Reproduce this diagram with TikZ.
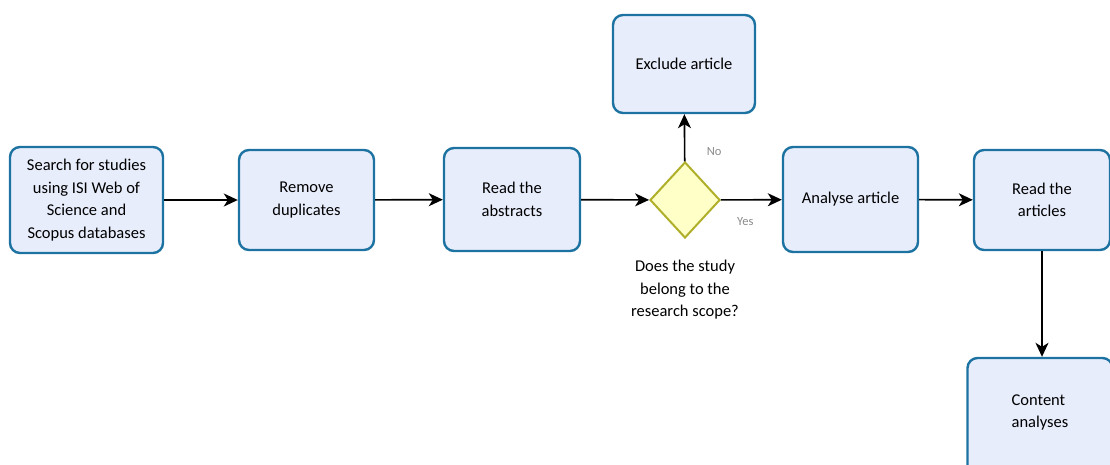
\documentclass[tikz,border=0pt]{standalone}
\usepackage{fontspec}
\setmainfont{Carlito}
\usetikzlibrary{shapes.geometric,arrows.meta}
\definecolor{boxfill}{HTML}{E8EDFC}
\definecolor{boxline}{HTML}{1C72A0}
\definecolor{decfill}{HTML}{FFFFC8}
\definecolor{decline}{HTML}{AFAF2A}
\definecolor{lblgrey}{HTML}{8A8A8A}
\tikzset{
  stepbox/.style={draw=boxline, fill=boxfill, line width=2.4pt, rounded corners=10pt,
    align=center, font=\fontsize{16.5}{22.5}\selectfont, inner sep=2pt},
  decision/.style={diamond, draw=decline, fill=decfill, line width=2pt,
    minimum width=70pt, minimum height=76pt, inner sep=0pt},
  flow/.style={line width=1.6pt, -{Stealth[length=14pt, width=13pt, inset=4pt]}},
  branch/.style={font=\fontsize{12.5}{14}\selectfont, text=lblgrey},
}
\begin{document}
\begin{tikzpicture}[x=1pt, y=-1pt]
\useasboundingbox (0,0) rectangle (1110,464);
\begin{scope}
\clip (0,0) rectangle (1110,464);
\node[stepbox, minimum width=153pt, minimum height=106pt] (search) at (86.5,200)
  {Search for studies\\using ISI Web of\\Science and\\Scopus databases};
\node[stepbox, minimum width=135pt, minimum height=100pt] (dupl) at (306.5,200)
  {Remove\\duplicates};
\node[stepbox, minimum width=136pt, minimum height=103pt] (abstr) at (512,199.5)
  {Read the\\abstracts};
\node[decision] (scope) at (685,200) {};
\node[stepbox, minimum width=142pt, minimum height=98pt] (excl) at (684,64)
  {Exclude article};
\node[stepbox, minimum width=135pt, minimum height=105pt] (analyse) at (850.5,199.5)
  {Analyse article};
\node[stepbox, minimum width=136pt, minimum height=100pt] (artic) at (1042,200)
  {Read the\\articles};
\node[stepbox, minimum width=145pt, minimum height=120pt, align=left,
  text depth=14pt] (content) at (1040,418)
  {Content\\analyses};
\end{scope}
\node[align=center, font=\fontsize{16.5}{22.5}\selectfont] (question) at (685,290)
  {Does the study\\belong to the\\research scope?};
\draw[flow] (search) -- (dupl);
\draw[flow] (dupl) -- (abstr);
\draw[flow] (abstr) -- (scope);
\draw[flow] (scope) -- (excl) node[branch, pos=0.2, right=18pt] {No};
\draw[flow] (scope) -- (analyse) node[branch, pos=0.4, below=14pt] {Yes};
\draw[flow] (analyse) -- (artic);
\draw[flow] (artic) -- (content.north -| artic.south);
\end{tikzpicture}
\end{document}
